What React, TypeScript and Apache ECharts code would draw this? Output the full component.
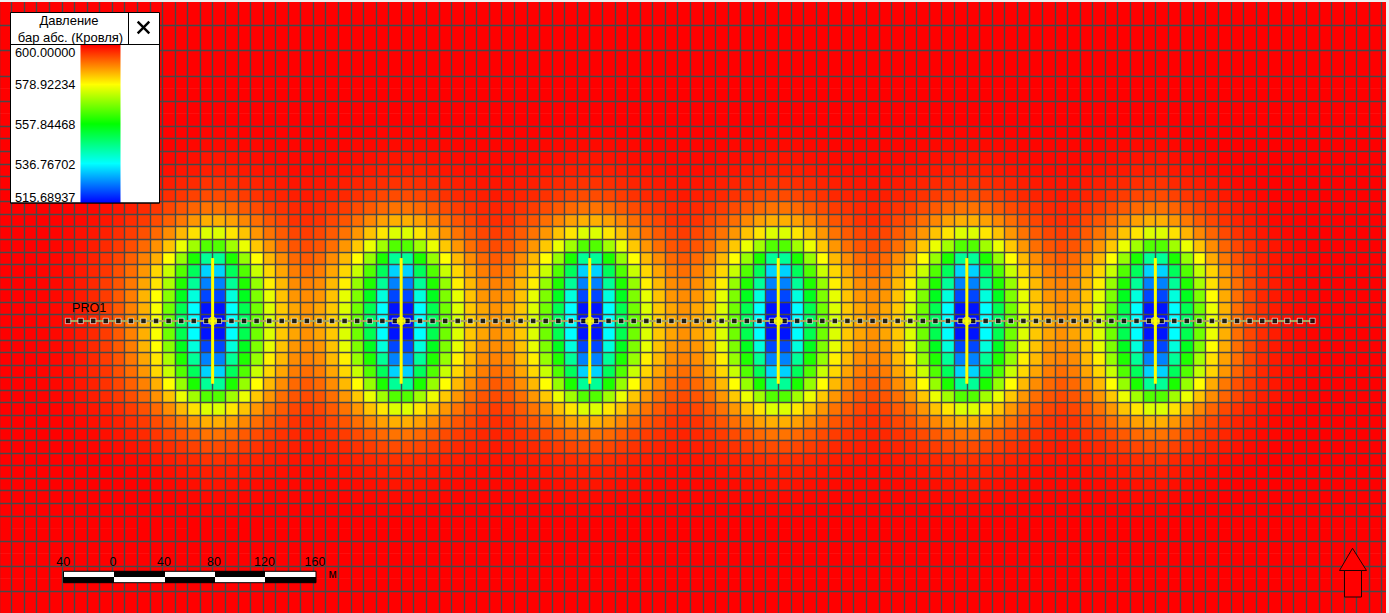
import React, { useEffect, useRef } from "react";
import * as echarts from "echarts";

// Pressure in bar. Rows go outward from the row holding the wells (d = 0).
// Columns go outward from a well. Anything beyond the end of a list is the 600 bar background.
const betweenWells: number[][] = [
  [516.9, 536.8, 549.6, 566.1, 575.2, 583.1, 585.9, 587.6],
  [517.3, 536.8, 551.2, 567.0, 576.0, 583.5, 586.4, 588.0],
  [521.5, 539.6, 555.4, 568.2, 576.9, 583.9, 587.6, 588.4],
  [526.4, 545.4, 560.3, 570.2, 580.2, 584.7, 588.4, 589.3],
  [533.1, 550.4, 564.5, 574.4, 582.2, 586.4, 589.7, 590.9],
  [545.4, 559.9, 570.2, 578.9, 584.7, 588.4, 591.3, 592.6],
  [564.5, 571.1, 577.3, 583.5, 587.6, 590.9, 593.0, 593.8],
  [576.0, 581.0, 583.9, 587.6, 590.5, 592.6, 594.2, 595.0],
  [585.5, 586.8, 588.8, 590.9, 593.0, 594.2, 595.9, 596.3],
  [590.5, 591.3, 592.6, 593.8, 595.0, 595.9, 596.7, 597.1],
  [593.8, 594.2, 595.0, 595.9, 596.7, 597.1, 597.5, 597.9],
  [595.9, 596.3, 596.7, 597.1, 597.5, 597.9, 598.3, 598.3],
  [597.5, 597.5, 597.9, 598.3, 598.5, 598.8, 599.0, 599.0],
  [598.3, 598.5, 598.8, 599.0, 599.2, 599.3, 599.3, 599.3],
  [599.2, 599.2, 599.3, 599.3, 599.6, 599.6, 599.6, 599.6],
  [599.6, 599.6, 599.8, 599.8, 599.8, 599.8, 599.8, 599.8],
];

const leftOfFirstWell: number[][] = [
  [516.9, 536.8, 549.6, 566.1, 578.0, 585.2, 589.0, 592.4, 594.9, 596.6, 597.8, 598.7, 599.3, 599.7, 599.9],
  [517.3, 536.8, 551.2, 567.0, 578.5, 585.5, 589.3, 592.6, 595.0, 596.7, 597.9, 598.8, 599.3, 599.7, 599.9],
  [521.5, 539.6, 555.4, 569.0, 578.9, 585.1, 589.7, 592.6, 595.0, 596.7, 597.9, 598.8, 599.3, 599.7, 599.9],
  [526.4, 545.4, 560.3, 572.0, 581.0, 586.4, 590.1, 593.0, 595.0, 596.7, 597.9, 598.8, 599.3, 599.7, 599.9],
  [533.1, 550.4, 564.5, 574.4, 582.2, 587.6, 590.9, 593.4, 595.5, 596.9, 597.9, 598.8, 599.3, 599.7, 599.9],
  [545.4, 559.9, 570.2, 578.9, 585.5, 589.3, 592.1, 594.2, 595.9, 597.3, 598.2, 598.9, 599.4, 599.7, 599.9],
  [564.5, 571.1, 577.3, 583.9, 588.0, 591.3, 593.6, 595.2, 596.5, 597.7, 598.5, 599.1, 599.5, 599.8],
  [576.0, 581.4, 584.7, 588.4, 591.3, 593.4, 595.0, 596.3, 597.4, 598.2, 598.8, 599.3, 599.7, 599.9],
  [585.5, 587.6, 590.1, 592.1, 593.8, 595.2, 596.3, 597.4, 598.2, 598.8, 599.3, 599.6, 599.8],
  [590.5, 591.7, 593.0, 594.2, 595.5, 596.5, 597.5, 598.2, 598.8, 599.3, 599.6, 599.8],
  [593.8, 594.6, 595.5, 596.3, 597.1, 597.9, 598.5, 599.0, 599.3, 599.7, 599.8],
  [595.9, 596.5, 597.1, 597.7, 598.3, 598.8, 599.2, 599.5, 599.8, 599.9],
  [597.5, 597.9, 598.3, 598.8, 599.2, 599.4, 599.7, 599.8],
  [598.3, 598.8, 599.2, 599.4, 599.7, 599.8],
  [599.2, 599.4, 599.6, 599.8, 599.9],
  [599.6, 599.8, 599.8, 599.9],
];

const rightOfLastWell: number[][] = [
  [516.9, 536.8, 549.6, 566.1, 576.9, 585.1, 590.7, 594.0, 596.2, 597.7, 598.8, 599.3, 599.7, 599.9],
  [517.3, 536.8, 551.2, 567.0, 577.3, 585.5, 590.9, 594.2, 596.3, 597.7, 598.8, 599.3, 599.7, 599.9],
  [521.5, 539.6, 555.4, 568.2, 578.9, 585.9, 590.9, 594.2, 596.7, 597.9, 598.8, 599.3, 599.7, 599.9],
  [526.4, 545.4, 560.3, 571.5, 581.4, 586.8, 590.9, 594.4, 596.5, 597.8, 598.8, 599.3, 599.7, 599.9],
  [533.1, 550.4, 564.5, 574.0, 582.6, 587.6, 591.7, 594.6, 596.7, 597.9, 598.8, 599.3, 599.7, 599.9],
  [545.4, 559.9, 570.2, 578.9, 585.9, 590.1, 593.4, 595.5, 597.1, 598.2, 598.9, 599.4, 599.8, 599.9],
  [564.5, 571.1, 577.3, 583.9, 588.4, 591.7, 594.2, 596.0, 597.5, 598.3, 599.0, 599.5, 599.8, 599.9],
  [576.0, 581.4, 585.1, 588.8, 591.7, 594.0, 595.9, 597.3, 598.2, 598.9, 599.4, 599.8, 599.9],
  [585.5, 587.6, 590.1, 592.6, 594.2, 595.9, 597.1, 597.9, 598.8, 599.3, 599.6, 599.8, 599.9],
  [590.5, 591.7, 593.4, 594.6, 595.9, 596.9, 597.9, 598.6, 599.2, 599.5, 599.8, 599.9],
  [593.8, 594.6, 595.5, 596.4, 597.3, 597.9, 598.6, 599.2, 599.5, 599.8, 599.9],
  [595.9, 596.7, 597.3, 597.8, 598.3, 598.8, 599.3, 599.6, 599.8, 599.9],
  [597.5, 597.9, 598.3, 598.8, 599.2, 599.4, 599.7, 599.8, 599.9],
  [598.3, 598.8, 599.1, 599.3, 599.6, 599.8, 599.9],
  [599.2, 599.4, 599.6, 599.8, 599.9],
  [599.6, 599.8, 599.9],
];

const columnCount = 111;
const rowCount = 49;
const wellRow = 25;
const firstWellColumn = 17;
const lastWellColumn = 92;
const wellPeriod = 15;

const wellX = [170, 320, 470, 620, 770, 920]; // m
const wellTopY = 205; // m
const wellBottomY = 305; // m
const trajectoryY = 255; // m
const completionX = [
  55, 65, 75, 85, 95, 105, 115, 125, 135, 145, 155, 165, 175, 185, 195, 205, 215, 225, 235, 245,
  255, 265, 275, 285, 295, 305, 315, 325, 335, 345, 355, 365, 375, 385, 395, 405, 415, 425, 435, 445,
  455, 465, 475, 485, 495, 505, 515, 525, 535, 545, 555, 565, 575, 585, 595, 605, 615, 625, 635, 645,
  655, 665, 675, 685, 695, 705, 715, 725, 735, 745, 755, 765, 775, 785, 795, 805, 815, 825, 835, 845,
  855, 865, 875, 885, 895, 905, 915, 925, 935, 945, 955, 965, 975, 985, 995, 1005, 1015, 1025, 1035, 1045,
];
// Horizontal mesh lines: rows are 20 m tall far from the wells and 10 m tall near them.
const meshLineY = [
  20, 40, 60, 80, 100, 110, 120, 130, 140, 150, 160, 170, 180, 190, 200, 210, 220, 230, 240, 250,
  260, 270, 280, 290, 300, 310, 320, 330, 340, 350, 360, 370, 380, 390, 400, 410, 430, 450, 470,
];

const legendTitle = ["Давление", "бар абс. (Кровля)"];
const legendLabels = ["600.00000", "578.92234", "557.84468", "536.76702", "515.68937"];
const scaleLabels = ["40", "0", "40", "80", "120", "160"];
const wellName = "PRO1";

const colorMin = 515.68937;
const colorMax = 600;
const rampColors = ["#0000ff", "#00ffff", "#00ff00", "#ffff00", "#ff0000"];

function cellValue(col: number, row: number): number {
  const d = Math.abs(row - wellRow);
  let list: number[] | undefined;
  let k = 0;
  if (col < firstWellColumn) {
    list = leftOfFirstWell[d];
    k = firstWellColumn - 1 - col;
  } else if (col >= lastWellColumn) {
    list = rightOfLastWell[d];
    k = col - lastWellColumn;
  } else {
    list = betweenWells[d];
    const offset = (col - firstWellColumn) % wellPeriod;
    k = offset <= 7 ? offset : wellPeriod - 1 - offset;
  }
  if (!list || k >= list.length) return colorMax;
  return list[k];
}

const CELL = 12.57;
const GRID_LEFT = -1.07;
const GRID_TOP = 0.4;
const FONT = '"Liberation Sans", Arial, sans-serif';

function text(s: string, x: number, y: number, size: number, align: string) {
  return {
    type: "text",
    x,
    y,
    z: 12,
    silent: true,
    style: {
      text: s,
      fill: "#000",
      font: `${size}px ${FONT}`,
      textAlign: align,
      textVerticalAlign: "middle",
    },
  };
}

function box(x: number, y: number, w: number, h: number, fill: any) {
  return { type: "rect", z: 11, silent: true, shape: { x, y, width: w, height: h }, style: { fill } };
}

function seg(x1: number, y1: number, x2: number, y2: number, lineWidth: number) {
  return {
    type: "line",
    z: 12,
    silent: true,
    shape: { x1, y1, x2, y2 },
    style: { stroke: "#000", lineWidth },
  };
}

export default function App() {
  const ref = useRef<HTMLDivElement>(null);

  useEffect(() => {
    document.body.style.margin = "0";
    document.body.style.background = "#f0f0f0";
    const chart = echarts.init(ref.current!, undefined, { renderer: "svg" });

    const cells: number[][] = [];
    for (let r = 0; r < rowCount; r++) {
      for (let c = 0; c < columnCount; c++) cells.push([c, r, cellValue(c, r)]);
    }

    const legendY = [52, 84.7, 124.3, 164.3, 197.3];
    const scaleX = [63.3, 113, 164, 214, 264.5, 315];
    const scaleBarX = [63.5, 114, 165, 215, 265, 316];
    const ramp = new echarts.graphic.LinearGradient(
      0,
      0,
      0,
      1,
      [...rampColors].reverse().map((color, i) => ({ offset: i / (rampColors.length - 1), color })),
    );

    const graphicElements: any[] = [
      // page background strips
      { ...box(0, 0, 1389, 2, "#f0f0f0"), z: 9 },
      { ...box(1386, 0, 3, 613, "#f0f0f0"), z: 9 },
      // legend panel
      {
        type: "rect",
        z: 10,
        silent: true,
        shape: { x: 10.5, y: 12.5, width: 149, height: 190.5 },
        style: { fill: "#fff", stroke: "#000", lineWidth: 1 },
      },
      box(80.5, 45, 40, 158, ramp),
      seg(10.5, 44.5, 159.5, 44.5, 1),
      seg(128.5, 12.5, 128.5, 44.5, 1),
      seg(10.5, 203, 159.5, 203, 1),
      seg(137.7, 21.7, 149.3, 33.3, 2.4),
      seg(149.3, 21.7, 137.7, 33.3, 2.4),
      text(legendTitle[0], 69, 20.7, 13, "center"),
      text(legendTitle[1], 70.5, 37, 13, "center"),
      ...legendLabels.map((s, i) => text(s, 75.5, legendY[i], 12.8, "right")),
      // well label
      text(wellName, 72, 308, 12.6, "left"),
      // scale bar
      ...scaleBarX.slice(0, -1).flatMap((x, i) => {
        const w = scaleBarX[i + 1] - x;
        const top = i % 2 === 0 ? "#fff" : "#000";
        const bottom = i % 2 === 0 ? "#000" : "#fff";
        return [box(x, 571.3, w, 5.7, top), box(x, 577, w, 5.7, bottom)];
      }),
      {
        type: "rect",
        z: 12,
        silent: true,
        shape: { x: 63.5, y: 571.3, width: 252.5, height: 11.4 },
        style: { fill: "none", stroke: "#000", lineWidth: 1 },
      },
      ...scaleLabels.map((s, i) => text(s, scaleX[i], 561.5, 12.5, "center")),
      text("м", 332.7, 574, 12, "center"),
      // north arrow
      {
        type: "polygon",
        z: 12,
        silent: true,
        shape: { points: [[1352.5, 548.3], [1366.5, 570.5], [1339.5, 570.5]] },
        style: { fill: "#ff0000", stroke: "#200000", lineWidth: 1 },
      },
      {
        type: "rect",
        z: 12,
        silent: true,
        shape: { x: 1344.5, y: 570.5, width: 17, height: 26.5 },
        style: { fill: "#ff0000", stroke: "#200000", lineWidth: 1 },
      },
    ];

    chart.setOption({
      animation: false,
      backgroundColor: "transparent",
      tooltip: { show: false },
      grid: [
        { left: GRID_LEFT, top: GRID_TOP, width: CELL * columnCount, height: CELL * rowCount, containLabel: false, outerBoundsMode: "none" },
        { left: GRID_LEFT, top: GRID_TOP, width: CELL * columnCount, height: CELL * rowCount, containLabel: false, outerBoundsMode: "none" },
      ],
      xAxis: [
        {
          type: "category",
          gridIndex: 0,
          z: 2,
          data: Array.from({ length: columnCount }, (_, i) => String(i)),
          axisLine: { show: false },
          axisTick: { show: false },
          axisLabel: { show: false },
          splitLine: { show: true, interval: 0, lineStyle: { color: "#484848", width: 1.4 } },
        },
        { type: "value", gridIndex: 1, show: false, min: 0, max: columnCount * 10 },
      ],
      yAxis: [
        {
          type: "category",
          gridIndex: 0,
          show: false,
          inverse: true,
          data: Array.from({ length: rowCount }, (_, i) => String(i)),
        },
        {
          type: "value",
          gridIndex: 1,
          z: 2,
          inverse: true,
          min: 0,
          max: rowCount * 10,
          axisLine: { show: false },
          axisTick: { show: false, customValues: meshLineY },
          axisLabel: { show: false },
          splitLine: {
            show: true,
            lineStyle: { color: "#484848", width: 1.4 },
          },
        },
      ],
      visualMap: {
        type: "continuous",
        show: false,
        seriesIndex: 0,
        min: colorMin,
        max: colorMax,
        inRange: { color: rampColors },
      },
      graphic: { elements: graphicElements },
      series: [
        {
          type: "heatmap",
          xAxisIndex: 0,
          yAxisIndex: 0,
          z: 1,
          silent: true,
          data: cells,
          itemStyle: { borderWidth: 0 },
          emphasis: { disabled: true },
        },
        {
          type: "line",
          xAxisIndex: 1,
          yAxisIndex: 1,
          z: 3,
          silent: true,
          symbol: "none",
          data: [
            [completionX[0], trajectoryY],
            [completionX[completionX.length - 1], trajectoryY],
          ],
          lineStyle: { color: "#a8a45c", width: 2 },
        },
        ...wellX.map((x) => ({
          type: "line",
          xAxisIndex: 1,
          yAxisIndex: 1,
          z: 4,
          silent: true,
          symbol: "none",
          data: [
            [x, wellTopY],
            [x, wellBottomY],
          ],
          lineStyle: { color: "#ffff00", width: 3, cap: "butt" },
        })),
        {
          type: "scatter",
          xAxisIndex: 1,
          yAxisIndex: 1,
          z: 5,
          silent: true,
          symbol: "rect",
          symbolSize: 5.4,
          data: completionX.map((x) => [x, trajectoryY]),
          itemStyle: { color: "#000", borderColor: "#fff", borderWidth: 0.8 },
        },
        {
          type: "scatter",
          xAxisIndex: 1,
          yAxisIndex: 1,
          z: 6,
          silent: true,
          symbol: "circle",
          symbolSize: 9,
          data: wellX.map((x) => [x, trajectoryY]),
          itemStyle: { color: "#ffff00", borderWidth: 0 },
        },
      ],
    });

    return () => chart.dispose();
  }, []);

  return <div ref={ref} style={{ position: "fixed", left: 0, top: 0, width: 1389, height: 613 }} />;
}
